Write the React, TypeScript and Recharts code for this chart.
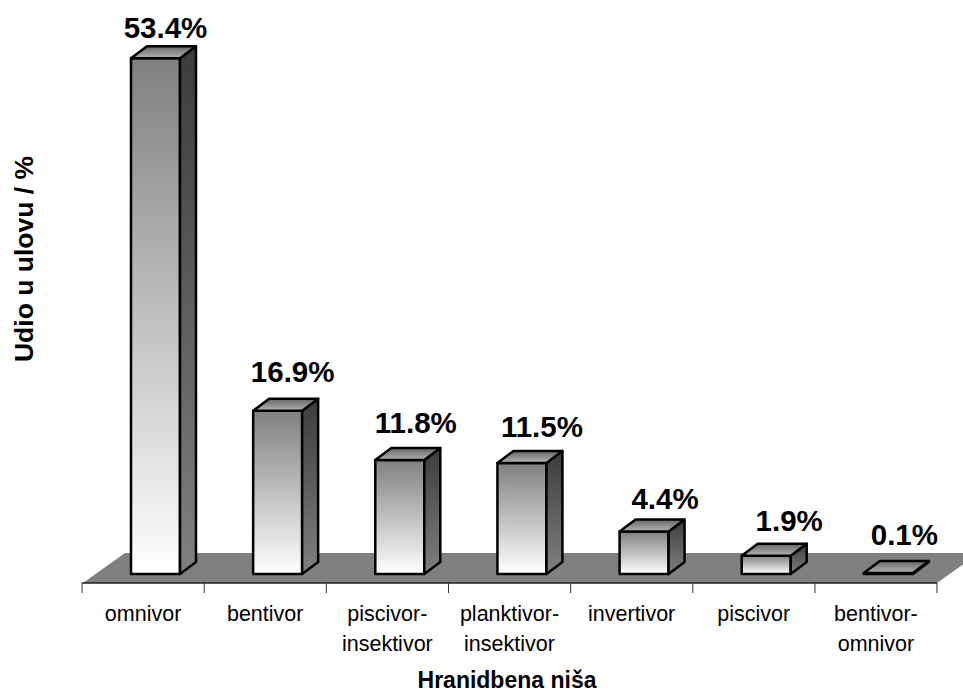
import { BarChart, Bar, XAxis, YAxis, ReferenceArea, LabelList } from "recharts";

const categories = [
    ["omnivor"],
    ["bentivor"],
    ["piscivor-", "insektivor"],
    ["planktivor-", "insektivor"],
    ["invertivor"],
    ["piscivor"],
    ["bentivor-", "omnivor"],
];
const values = [53.4, 16.9, 11.8, 11.5, 4.4, 1.9, 0.1];
const valueLabels = ["53.4%", "16.9%", "11.8%", "11.5%", "4.4%", "1.9%", "0.1%"];
// the labels sit unevenly above the boxes in the original
const labelLift = [20, 29, 27, 26, 23, 25, 28];
const labelShift = [22, 27, 28, 32, 33, 35, 28];

const data = categories.map((c, i) => ({ name: c.join(" "), value: values[i] }));

const FONT = "Liberation Sans, Arial, sans-serif";
const DX = 16;
const DY = 12;
const BAR_SHIFT = 12;
const CAT_WIDTH = 122;

function Box(props: any) {
    const x = props.x + BAR_SHIFT;
    const y = props.y;
    const w = props.width;
    const h = props.height;
    const side = `${x + w},${y} ${x + w + DX},${y - DY} ${x + w + DX},${y + h - DY} ${x + w},${y + h}`;
    const top = `${x},${y} ${x + DX},${y - DY} ${x + w + DX},${y - DY} ${x + w},${y}`;
    return (
        <g stroke="#000" strokeWidth={2.5} strokeLinejoin="round">
            <rect x={x} y={y} width={w} height={h} fill="url(#front)" />
            <polygon points={side} fill="url(#side)" />
            <polygon points={top} fill="url(#top)" />
        </g>
    );
}

function Floor(props: any) {
    const { x, y, width, height } = props;
    const b = y + height;
    const pts = `${x + 1},${b} ${x + 43},${y} ${x + width + 42},${y} ${x + width},${b}`;
    return <polygon points={pts} fill="#808080" stroke="none" />;
}

function CategoryTick(props: any) {
    const { x, y, index } = props;
    const lines = categories[index];
    const left = x - CAT_WIDTH / 2;
    return (
        <g>
            <line x1={left} y1={y} x2={left} y2={y + 10} stroke="#333" strokeWidth={1} />
            {index === categories.length - 1 && (
                <line x1={left + CAT_WIDTH} y1={y} x2={left + CAT_WIDTH} y2={y + 10} stroke="#333" strokeWidth={1} />
            )}
            {lines.map((t, i) => (
                <text key={t} x={x} y={y + 37.5 + i * 30} textAnchor="middle" fontFamily={FONT} fontSize={21.5} fill="#000">
                    {t}
                </text>
            ))}
        </g>
    );
}

function ValueLabel(props: any) {
    const { x, y, width, index } = props;
    return (
        <text
            x={x + width / 2 + labelShift[index]}
            y={y - labelLift[index]}
            textAnchor="middle"
            fontFamily={FONT}
            fontSize={29.5}
            fontWeight="bold"
            fill="#000"
        >
            {valueLabels[index]}
        </text>
    );
}

function XTitle() {
    return (
        <text x={507} y={688} textAnchor="middle" fontFamily={FONT} fontSize={23} fontWeight="bold" fill="#000">
            Hranidbena niša
        </text>
    );
}

function YTitle() {
    return (
        <text
            transform="translate(33 259) rotate(-90)"
            textAnchor="middle"
            fontFamily={FONT}
            fontSize={26.5}
            fontWeight="bold"
            fill="#000"
        >
            Udio u ulovu / %
        </text>
    );
}

export default function App() {
    return (
        <div style={{ position: "absolute", left: 0, top: 0 }}>
            <BarChart
                width={963}
                height={693}
                data={data}
                margin={{ top: 20, right: 26, left: 0, bottom: 0 }}
                barCategoryGap={0}
            >
                <defs>
                    <linearGradient id="front" x1="0" y1="0" x2="0" y2="1">
                        <stop offset="0" stopColor="#808080" />
                        <stop offset="1" stopColor="#fff" />
                    </linearGradient>
                    <linearGradient id="side" x1="0" y1="0" x2="0" y2="1">
                        <stop offset="0" stopColor="#3c3c3c" />
                        <stop offset="1" stopColor="#808080" />
                    </linearGradient>
                    <linearGradient id="top" x1="0" y1="0" x2="0" y2="1">
                        <stop offset="0" stopColor="#666" />
                        <stop offset="1" stopColor="#b4b4b4" />
                    </linearGradient>
                </defs>
                <XAxis
                    dataKey="name"
                    height={110}
                    interval={0}
                    tickSize={0}
                    tickMargin={0}
                    axisLine={{ stroke: "#222", strokeWidth: 1.5 }}
                    tickLine={false}
                    tick={<CategoryTick />}
                    label={<XTitle />}
                />
                <YAxis
                    width={82}
                    type="number"
                    domain={[-0.93, 57.35]}
                    tick={false}
                    axisLine={false}
                    tickLine={false}
                    label={<YTitle />}
                />
                <ReferenceArea y1={-0.93} y2={2.18} shape={<Floor />} />
                <Bar dataKey="value" barSize={49} shape={<Box />} isAnimationActive={false}>
                    <LabelList dataKey="value" content={<ValueLabel />} />
                </Bar>
            </BarChart>
        </div>
    );
}
